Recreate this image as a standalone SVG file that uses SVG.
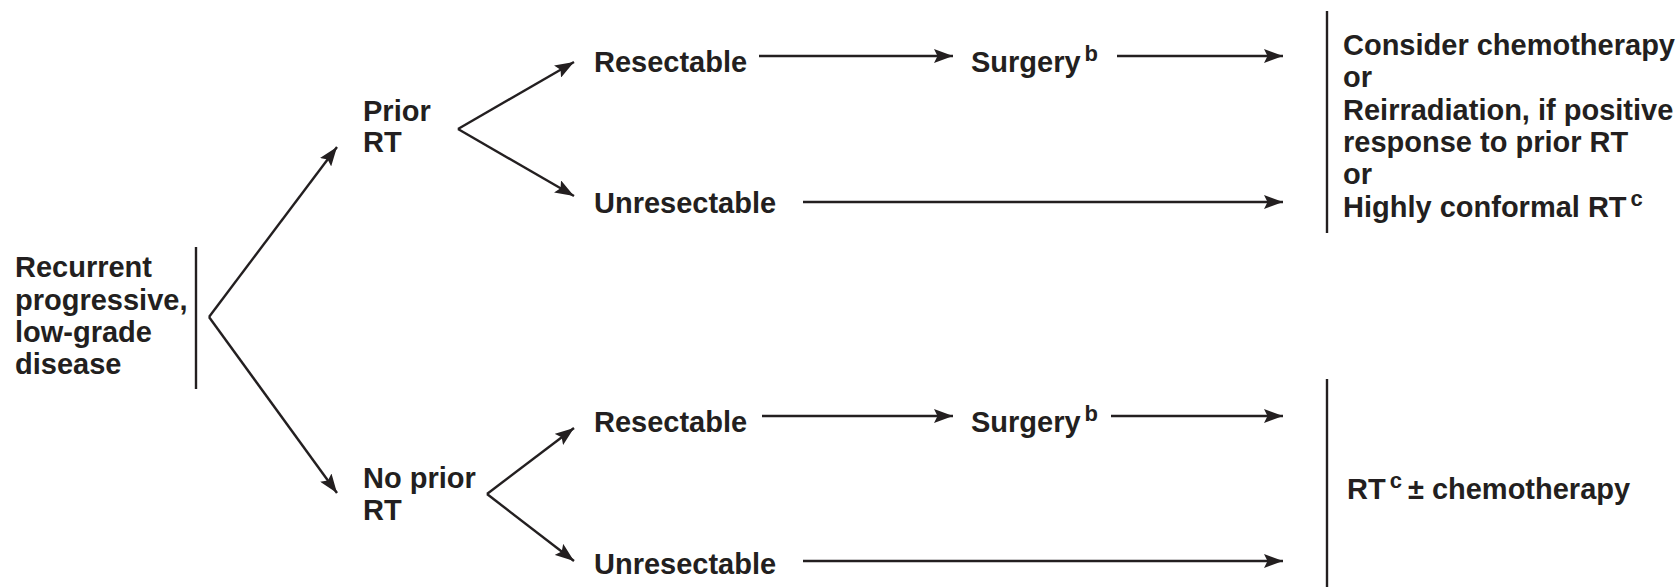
<svg xmlns="http://www.w3.org/2000/svg" width="1680" height="587" viewBox="0 0 1680 587">
<defs>
<marker id="ah" markerUnits="userSpaceOnUse" markerWidth="20" markerHeight="14" refX="19" refY="7" orient="auto">
<path d="M0,0 L19,7 L0,14 L3.5,7 z" fill="#231f20"/>
</marker>
<style>
text{font-family:"Liberation Sans",Arial,Helvetica,sans-serif;font-weight:bold;font-size:29px;fill:#231f20}
.sup{font-size:22px}
.ln{stroke:#231f20;stroke-width:2.4;fill:none}
.ar{stroke:#231f20;stroke-width:2.4;fill:none;marker-end:url(#ah)}
</style>
</defs>
<rect width="1680" height="587" fill="#fff"/>
<g id="recurrent">
<text x="15" y="277">Recurrent</text>
<text x="15" y="309.5">progressive,</text>
<text x="15" y="342">low-grade</text>
<text x="15" y="374">disease</text>
</g>
<g id="prior-rt">
<text x="363" y="121">Prior</text>
<text x="363" y="152">RT</text>
</g>
<g id="no-prior-rt">
<text x="363" y="488">No prior</text>
<text x="363" y="520">RT</text>
</g>
<g id="resectable-1"><text x="594" y="72">Resectable</text></g>
<g id="unresectable-1"><text x="594" y="213">Unresectable</text></g>
<g id="resectable-2"><text x="594" y="432">Resectable</text></g>
<g id="unresectable-2"><text x="594" y="574">Unresectable</text></g>
<g id="surgery-1"><text x="971" y="72">Surgery<tspan class="sup" dx="4" dy="-11">b</tspan></text></g>
<g id="surgery-2"><text x="971" y="432">Surgery<tspan class="sup" dx="4" dy="-11">b</tspan></text></g>
<g id="options-prior">
<text x="1343" y="55">Consider chemotherapy</text>
<text x="1343" y="87.3">or</text>
<text x="1343" y="119.6">Reirradiation, if positive</text>
<text x="1343" y="151.9">response to prior RT</text>
<text x="1343" y="184.2">or</text>
<text x="1343" y="216.5">Highly conformal RT<tspan class="sup" dx="4" dy="-11">c</tspan></text>
</g>
<g id="options-no-prior">
<text x="1347" y="499">RT<tspan class="sup" dx="4" dy="-11">c</tspan><tspan dx="6" dy="11">± chemotherapy</tspan></text>
</g>
<g id="connectors">
<line class="ln" x1="196" y1="247" x2="196" y2="389"/>
<line class="ln" x1="1327" y1="11" x2="1327" y2="233"/>
<line class="ln" x1="1327" y1="379" x2="1327" y2="587"/>
<line class="ar" x1="209" y1="317" x2="337" y2="147"/>
<line class="ar" x1="209" y1="317" x2="337" y2="493"/>
<line class="ar" x1="458" y1="129" x2="574" y2="62"/>
<line class="ar" x1="458" y1="129" x2="574" y2="196"/>
<line class="ar" x1="487" y1="494" x2="574" y2="428"/>
<line class="ar" x1="487" y1="494" x2="574" y2="561"/>
<line class="ar" x1="759" y1="56" x2="953" y2="56"/>
<line class="ar" x1="1117" y1="56" x2="1283" y2="56"/>
<line class="ar" x1="803" y1="202" x2="1283" y2="202"/>
<line class="ar" x1="762" y1="416" x2="953" y2="416"/>
<line class="ar" x1="1111" y1="416" x2="1283" y2="416"/>
<line class="ar" x1="803" y1="561" x2="1283" y2="561"/>
</g>
</svg>
